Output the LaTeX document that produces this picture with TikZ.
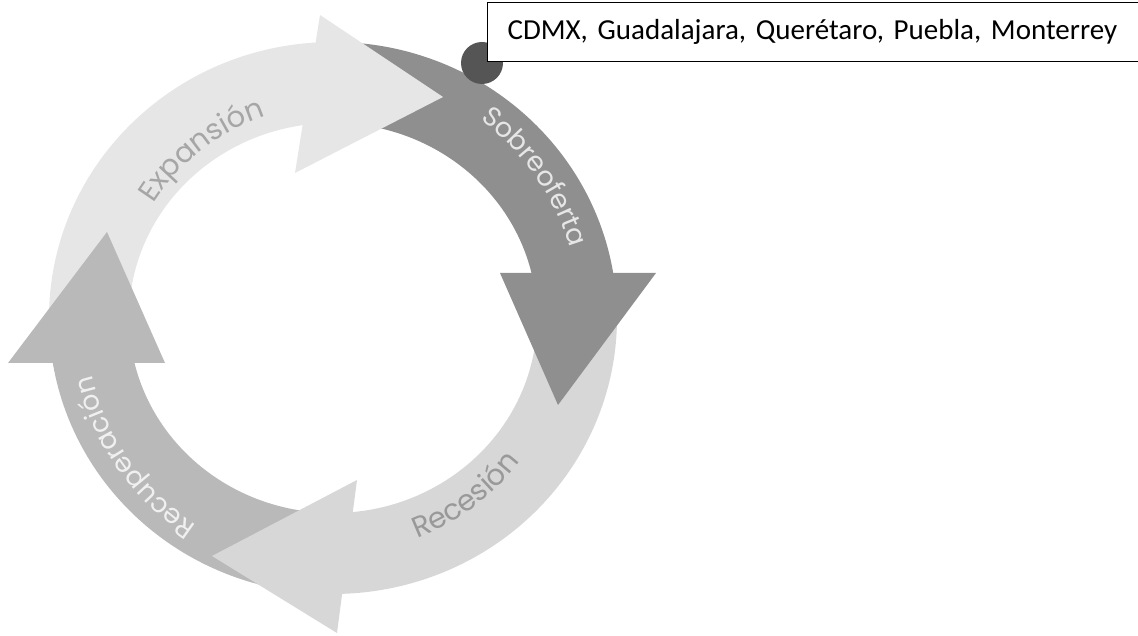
\documentclass[tikz,border=0pt]{standalone}
\usepackage{fontspec}
\setmainfont{Carlito}
\newfontfamily\ringfont{Poppins}
\usetikzlibrary{calc,decorations.text}
\definecolor{expcol}{HTML}{E6E6E6}
\definecolor{sobcol}{HTML}{8F8F8F}
\definecolor{reccol}{HTML}{D7D7D7}
\definecolor{rupcol}{HTML}{B9B9B9}
\definecolor{exptext}{HTML}{A6A6A6}
\definecolor{sobtext}{HTML}{E6E6E6}
\definecolor{rectext}{HTML}{999999}
\definecolor{ruptext}{HTML}{F0F0F0}
\definecolor{dotcol}{HTML}{555555}
\tikzset{
  ringlabel/.style n args={3}{decorate, decoration={text along path, text align=center,
      text={|\ringfont\fontsize{#1}{#1}\selectfont\color{#2}|#3}}},
  callout/.style={draw=black, line width=1.2pt, fill=white, anchor=north west,
      text width=630pt, inner xsep=20pt, minimum height=59pt, align=left,
      font=\fontsize{29}{34}\selectfont},
  dotstyle/.style={circle, fill=dotcol, minimum size=42pt, inner sep=0pt}
}
\begin{document}
\begin{tikzpicture}[x=1pt,y=1pt]
\useasboundingbox (0,0) rectangle (1138,635);
\coordinate (C) at (333,317);
% bodies
\fill[expcol] ($(C)+(-180:284 and 276)$) arc[start angle=-180,end angle=-270,x radius=284,y radius=276]
  -- ($(C)+(-264:204 and 195)$) arc[start angle=-264,end angle=-180,x radius=204,y radius=195] -- cycle;
\fill[sobcol] ($(C)+(-270:284 and 276)$) arc[start angle=-270,end angle=-353.9,x radius=284,y radius=276]
  -- ($(C)+(-350:204 and 195)$) arc[start angle=-350,end angle=-270,x radius=204,y radius=195] -- cycle;
\fill[reccol] ($(C)+(0:284 and 276)$) arc[start angle=0,end angle=-91.6,x radius=284,y radius=276]
  -- ($(C)+(-87.5:204 and 195)$) arc[start angle=-87.5,end angle=0,x radius=204,y radius=195] -- cycle;
\fill[rupcol] ($(C)+(-98:284 and 276)$) arc[start angle=-98,end angle=-173.8,x radius=284,y radius=276]
  -- ($(C)+(-169.9:204 and 195)$) arc[start angle=-169.9,end angle=-98,x radius=204,y radius=195] -- cycle;
% heads
\fill[expcol] (320,620) -- (443,538) -- (295,462) -- cycle;
\fill[sobcol] (500,362) -- (656,362) -- (558,230) -- cycle;
\fill[reccol] (357,155) -- (212,79) -- (337,2) -- cycle;
\fill[rupcol] (8,272) -- (165,272) -- (107,403) -- cycle;
% labels
\path[ringlabel={29}{exptext}{Expansión}] ($(C)+(-182:213)$) arc[start angle=-182,end angle=-282,radius=213];
\path[ringlabel={27}{sobtext}{Sobreoferta}] ($(C)+(-275:247)$) arc[start angle=-275,end angle=-375,radius=247];
\path[ringlabel={29}{rectext}{Recesión}] ($(C)+(-103.3:236)$) arc[start angle=-103.3,end angle=-3.3,radius=236];
\path[ringlabel={27}{ruptext}{Recuperación}] ($(C)+(-95:248)$) arc[start angle=-95,end angle=-195,radius=248];
% callout
\node[dotstyle] (dot) at (482,572) {};
\node[callout] (box) at (487,633) {CDMX, Guadalajara, Querétaro, Puebla, Monterrey};
\end{tikzpicture}
\end{document}
